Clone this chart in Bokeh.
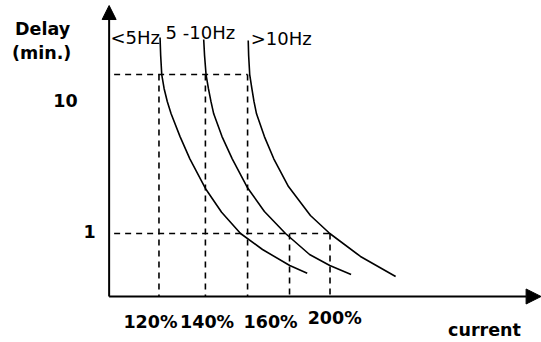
from bokeh.plotting import figure
from bokeh.models import Range1d, Arrow, NormalHead
from bokeh.core.properties import value
from bokeh.embed import file_html
from bokeh.resources import INLINE

# ---------------- data (current in %, delay in minutes) ----------------
delay_ticks = ["10", "1"]
delay_levels = [10.0, 1.0]

# three trip curves
c1_current = [119.5, 119.8, 120.3, 121.4, 122.9, 124.7, 128.9, 133.5, 140.8, 148.4, 157.3, 167.6, 180.4, 188.6]
c1_delay = [17.09, 13.17, 10.0, 8.17, 6.77, 5.66, 4.07, 2.95, 1.92, 1.36, 1.0, 0.793, 0.629, 0.563]

c2_current = [140.0, 140.4, 141.1, 142.2, 143.4, 144.7, 148.6, 153.4, 160.4, 168.5, 178.4, 189.7, 199.2, 209.2]
c2_delay = [16.60, 13.17, 10.0, 8.17, 6.77, 5.66, 4.07, 2.95, 1.955, 1.375, 1.0, 0.738, 0.629, 0.552]

c3_current = [160.9, 161.1, 161.6, 162.6, 163.6, 164.8, 168.5, 172.9, 179.8, 190.1, 199.2, 213.6, 230.1]
c3_delay = [16.36, 13.17, 10.0, 8.17, 6.77, 5.66, 4.07, 2.95, 1.975, 1.298, 1.0, 0.717, 0.536]

curve_labels = ["<5Hz", "5 -10Hz", ">10Hz"]
current_ticks = ["120%", "140%", "160%", "200%"]

# currents where the dashed guides meet the 10 min and 1 min levels
cross_10 = [119.0, 140.8, 160.6]
cross_1 = [180.3, 199.3]

# axis origin / extents
origin_current = 95.6
origin_delay = 0.4016
y_axis_top = 27.16
x_axis_end = 298.4

# ---------------- layout positions of texts (data units) ----------------
curve_label_x = [96.2, 122.1, 162.1]
curve_label_y = [17.01, 18.45, 16.77]
tick_label_x = [115.0, 141.6, 171.4, 201.5]
tick_label_y = [0.2768, 0.2768, 0.2768, 0.2950]
delay_label_x = [75.1, 86.4]
delay_label_y = [6.864, 1.029]

FONT = value("DejaVu Sans")
BOLD_SIZE = value("17.5px")

p = figure(width=541, height=342,
           x_range=Range1d(44.60, 298.59), y_range=Range1d(0.20627, 29.21),
           y_axis_type="log",
           x_axis_location=None, y_axis_location=None,
           toolbar_location=None, output_backend="svg", min_border=0)
p.grid.visible = False
p.outline_line_color = None
p.background_fill_color = "white"
p.border_fill_color = "white"

# dashed guides: horizontals from the delay axis
p.segment(x0=[origin_current] * 2, y0=delay_levels,
          x1=[cross_10[-1], cross_1[-1]], y1=delay_levels,
          line_color="black", line_width=1.6, line_dash="6 5", line_dash_offset=6)
# verticals down to the current axis
p.segment(x0=cross_10 + cross_1,
          y0=[delay_levels[0]] * len(cross_10) + [delay_levels[1]] * len(cross_1),
          x1=cross_10 + cross_1, y1=[origin_delay] * (len(cross_10) + len(cross_1)),
          line_color="black", line_width=1.6, line_dash="6 5")

# curves
for cx, cy in [(c1_current, c1_delay), (c2_current, c2_delay), (c3_current, c3_delay)]:
    p.line(cx, cy, line_color="black", line_width=1.6)

# axes as arrows
p.add_layout(Arrow(end=NormalHead(size=14, fill_color="black", line_color="black", line_width=1),
                   x_start=origin_current, y_start=origin_delay,
                   x_end=origin_current, y_end=y_axis_top,
                   line_color="black", line_width=2))
p.add_layout(Arrow(end=NormalHead(size=15, fill_color="black", line_color="black", line_width=1),
                   x_start=origin_current, y_start=origin_delay,
                   x_end=x_axis_end, y_end=origin_delay,
                   line_color="black", line_width=2))

# curve labels
p.text(x=curve_label_x, y=curve_label_y, text=curve_labels,
       text_font=FONT, text_font_size=value("18px"), text_color="black",
       text_align="left", text_baseline="alphabetic")

# current tick labels
p.text(x=tick_label_x, y=tick_label_y, text=current_ticks,
       text_font=FONT, text_font_style="bold", text_font_size=BOLD_SIZE,
       text_color="black", text_align="center", text_baseline="alphabetic")

# delay tick labels
p.text(x=delay_label_x, y=delay_label_y, text=delay_ticks,
       text_font=FONT, text_font_style="bold", text_font_size=BOLD_SIZE,
       text_color="black", text_align="center", text_baseline="alphabetic")

# axis titles
p.text(x=[51.4, 50.0], y=[19.39, 13.61], text=["Delay", "(min.)"],
       text_font=FONT, text_font_style="bold", text_font_size=BOLD_SIZE,
       text_color="black", text_align="left", text_baseline="alphabetic")
p.text(x=[271.8], y=[0.2489], text=["current"],
       text_font=FONT, text_font_style="bold", text_font_size=BOLD_SIZE,
       text_color="black", text_align="center", text_baseline="alphabetic")

with open("out.html", "w", encoding="utf-8") as f:
    f.write(file_html(p, INLINE, title="Delay vs current"))
